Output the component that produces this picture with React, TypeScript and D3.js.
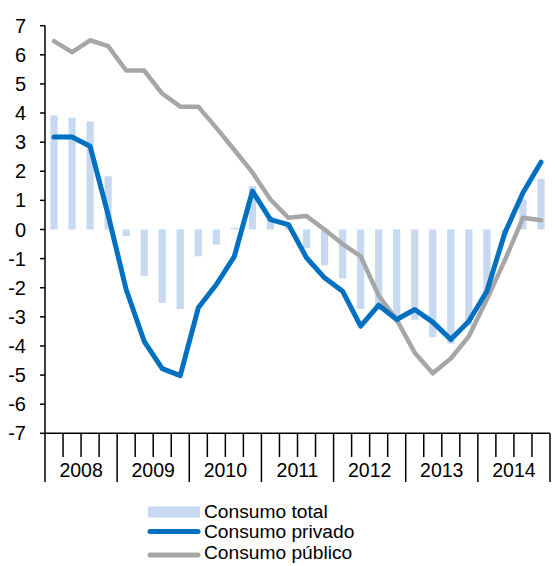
import React from "react";
import * as d3 from "d3";

const years = ["2008", "2009", "2010", "2011", "2012", "2013", "2014"];
const quarters = years.flatMap((y) => ["T1", "T2", "T3", "T4"].map((q) => `${y}${q}`));

const consumoTotal = [3.92, 3.84, 3.71, 1.83, -0.23, -1.6, -2.52, -2.73, -0.92, -0.52, 0.06, 1.49, 0.45, 0.15, -0.63, -1.23, -1.68, -2.73, -2.75, -3.05, -3.1, -3.7, -3.92, -3.3, -2.2, -0.2, 1.03, 1.74];
const consumoPrivado = [3.18, 3.18, 2.86, 0.5, -2.06, -3.84, -4.78, -5.02, -2.69, -1.89, -0.92, 1.32, 0.34, 0.17, -0.97, -1.66, -2.12, -3.32, -2.6, -3.09, -2.75, -3.18, -3.78, -3.15, -2.12, -0.11, 1.26, 2.31];
const consumoPublico = [6.47, 6.09, 6.5, 6.3, 5.46, 5.46, 4.67, 4.22, 4.22, 3.49, 2.73, 1.96, 1.03, 0.4, 0.46, 0.0, -0.5, -0.92, -2.27, -3.1, -4.23, -4.94, -4.43, -3.67, -2.4, -1.05, 0.4, 0.32];
const yTicks = [7, 6, 5, 4, 3, 2, 1, 0, -1, -2, -3, -4, -5, -6, -7];
const legendItems = ["Consumo total", "Consumo privado", "Consumo público"];

const BAR = "#c6d9f1";
const BLUE = "#0070c0";
const GRAY = "#a6a6a6";
const FONT = "Liberation Sans, Arial, sans-serif";

export default function App() {
  const left = 45, right = 550, top = 25.7, bottom = 433.3;
  const x = d3.scaleBand<string>().domain(quarters).range([left, right]).paddingInner(0).paddingOuter(0);
  const y = d3.scaleLinear().domain([-7, 7]).range([bottom, top]);
  const bw = x.bandwidth();
  const cx = (i: number) => (x(quarters[i]) as number) + bw / 2;
  const line = d3.line<number>().x((_, i) => cx(i)).y((v) => y(v));
  const yearStart = (k: number) => x(quarters[k * 4]) as number;

  return (
    <svg width={555} height={566} style={{ position: "absolute", left: 0, top: 0, background: "#fff" }} fontFamily={FONT}>
      {consumoTotal.map((v, i) => (
        <rect key={i} x={cx(i) - bw * 0.2} width={bw * 0.4} y={Math.min(y(v), y(0))} height={Math.abs(y(v) - y(0))} fill={BAR} />
      ))}
      <path d={line(consumoPublico) || ""} fill="none" stroke={GRAY} strokeWidth={4.5} strokeLinejoin="round" strokeLinecap="round" />
      <path d={line(consumoPrivado) || ""} fill="none" stroke={BLUE} strokeWidth={5} strokeLinejoin="round" strokeLinecap="round" />
      {/* y axis */}
      <line x1={left} x2={left} y1={top} y2={bottom} stroke="#000" strokeWidth={1.5} />
      {yTicks.map((t) => (
        <g key={t}>
          <line x1={left - 5} x2={left} y1={y(t)} y2={y(t)} stroke="#000" strokeWidth={1.5} />
          <text x={26} y={y(t) + 7} textAnchor="end" fontSize={20} fill="#000">{t}</text>
        </g>
      ))}
      {/* x axis */}
      <line x1={left} x2={right} y1={bottom} y2={bottom} stroke="#000" strokeWidth={1.5} />
      {quarters.map((q, i) => (
        <line key={q} x1={x(q) as number} x2={x(q) as number} y1={bottom} y2={i % 4 === 0 ? 482 : 457} stroke="#000" strokeWidth={1.5} />
      ))}
      <line x1={right} x2={right} y1={bottom} y2={482} stroke="#000" strokeWidth={1.5} />
      {years.map((yr, k) => (
        <text key={yr} x={yearStart(k) + bw * 2} y={476.5} textAnchor="middle" fontSize={19.5} fill="#000">{yr}</text>
      ))}
      {/* legend */}
      <rect x={148} y={506.5} width={52} height={11} fill={BAR} />
      <line x1={150} x2={198} y1={531.5} y2={531.5} stroke={BLUE} strokeWidth={5} strokeLinecap="round" />
      <line x1={150} x2={198} y1={555} y2={555} stroke={GRAY} strokeWidth={5} strokeLinecap="round" />
      {legendItems.map((s, i) => (
        <text key={s} x={204} y={517.5 + i * 20.8} fontSize={19.2} fill="#000">{s}</text>
      ))}
    </svg>
  );
}
